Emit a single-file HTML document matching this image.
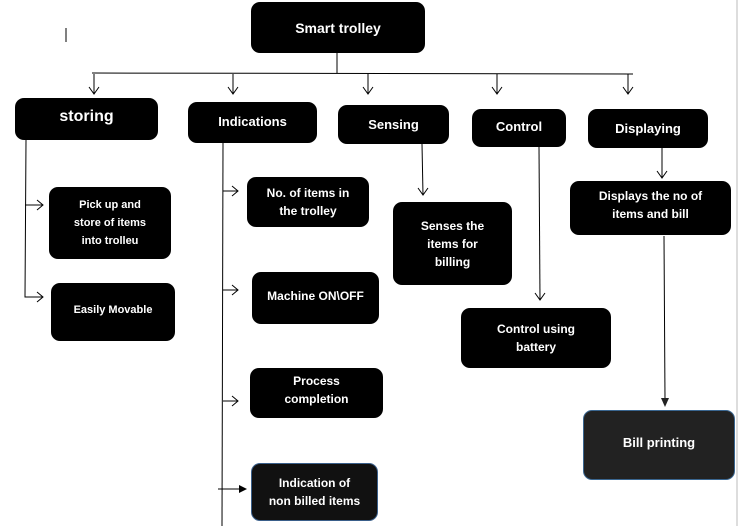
<!DOCTYPE html>
<html><head><meta charset="utf-8"><style>
body{margin:0;width:750px;height:526px;background:#fff;position:relative;overflow:hidden;font-family:"Liberation Sans",sans-serif}
.b{position:absolute;background:#000;color:#fff;border-radius:9px;display:flex;align-items:center;justify-content:center;text-align:center;font-weight:bold;font-size:12px;line-height:18px;box-sizing:border-box}
svg{position:absolute;left:0;top:0}
</style></head><body>
<svg width="750" height="526">
<g stroke="#000" stroke-width="1" fill="none">
<line x1="66" y1="28" x2="66" y2="42"/>
<line x1="337" y1="53" x2="337" y2="73"/>
<line x1="92" y1="73" x2="633" y2="74"/>
<line x1="94" y1="74" x2="94" y2="94"/><polyline points="89,87 94,94 99,87"/>
<line x1="233" y1="74" x2="233" y2="94"/><polyline points="228,87 233,94 238,87"/>
<line x1="368" y1="74" x2="368" y2="94"/><polyline points="363,87 368,94 373,87"/>
<line x1="497" y1="74" x2="497" y2="94"/><polyline points="492,87 497,94 502,87"/>
<line x1="628" y1="74" x2="628" y2="94"/><polyline points="623,87 628,94 633,87"/>
<polyline points="26,140 25,297 43,297"/>
<line x1="25" y1="205" x2="43" y2="205"/>
<polyline points="37,200 43,205 37,210"/><polyline points="37,292 43,297 37,302"/>
<line x1="223" y1="143" x2="222" y2="526"/>
<line x1="223" y1="191" x2="238" y2="191"/><polyline points="232,186 238,191 232,196"/>
<line x1="223" y1="290" x2="238" y2="290"/><polyline points="232,285 238,290 232,295"/>
<line x1="223" y1="401" x2="238" y2="401"/><polyline points="232,396 238,401 232,406"/>
<line x1="218" y1="489" x2="240" y2="489"/>
<line x1="422" y1="144" x2="423" y2="195"/><polyline points="418,188 423,195 428,188"/>
<line x1="539" y1="147" x2="540" y2="300"/><polyline points="535,293 540,300 545,293"/>
<line x1="662" y1="148" x2="662" y2="178"/><polyline points="657,171 662,178 667,171"/>
<line x1="664" y1="236" x2="665" y2="400"/>
<line x1="737" y1="0" x2="737" y2="526" stroke="#ddd" stroke-width="2"/>
</g>
<polygon points="661,398 669,398 665,407" fill="#222"/>
<polygon points="239,485 247,489 239,493" fill="#000"/>
</svg>
<div class="b" style="left:251px;top:2px;width:174px;height:51px;font-size:14px">Smart trolley</div>
<div class="b" style="left:15px;top:98px;width:143px;height:42px;font-size:16px;padding-bottom:4px">storing</div>
<div class="b" style="left:188px;top:102px;width:129px;height:41px;font-size:13px;padding-bottom:2px">Indications</div>
<div class="b" style="left:338px;top:105px;width:111px;height:39px;font-size:13px">Sensing</div>
<div class="b" style="left:472px;top:109px;width:94px;height:38px;font-size:13px;padding-bottom:2px">Control</div>
<div class="b" style="left:588px;top:109px;width:120px;height:39px;font-size:13px">Displaying</div>
<div class="b" style="left:49px;top:187px;width:122px;height:72px;font-size:11px">Pick up and<br>store of items<br>into trolleu</div>
<div class="b" style="left:51px;top:283px;width:124px;height:58px;font-size:11px;padding-bottom:4px">Easily Movable</div>
<div class="b" style="left:247px;top:177px;width:122px;height:50px">No. of items in<br>the trolley</div>
<div class="b" style="left:252px;top:272px;width:127px;height:52px;padding-bottom:4px">Machine ON\OFF</div>
<div class="b" style="left:250px;top:368px;width:133px;height:50px;padding-bottom:6px">Process<br>completion</div>
<div class="b" style="left:251px;top:463px;width:127px;height:58px;border:1px solid #3a5f8a;background:#111">Indication of<br>non billed items</div>
<div class="b" style="left:393px;top:202px;width:119px;height:83px">Senses the<br>items for<br>billing</div>
<div class="b" style="left:461px;top:308px;width:150px;height:60px">Control using<br>battery</div>
<div class="b" style="left:570px;top:181px;width:161px;height:54px;padding-bottom:6px">Displays the no of<br>items and bill</div>
<div class="b" style="left:583px;top:410px;width:152px;height:70px;background:#222;border:1px solid #3a6690;font-size:13px;padding-bottom:4px">Bill printing</div>
</body></html>
